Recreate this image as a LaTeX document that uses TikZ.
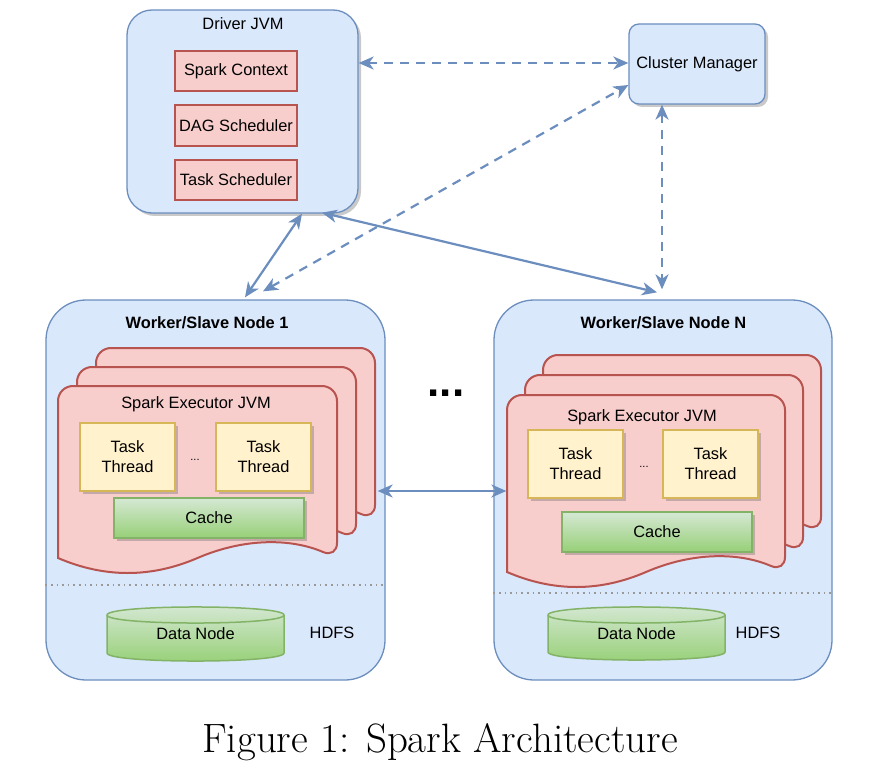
\documentclass[tikz,border=0pt]{standalone}
\usepackage{fontspec}
\newfontfamily\arialf{Liberation Sans}
\usetikzlibrary{arrows.meta,shadows,calc}
\definecolor{bfill}{HTML}{DAE8FC}
\definecolor{bdraw}{HTML}{6C8EBF}
\definecolor{rfill}{HTML}{F8CECC}
\definecolor{rdraw}{HTML}{B85450}
\definecolor{yfill}{HTML}{FFF2CC}
\definecolor{ydraw}{HTML}{D6B656}
\definecolor{gfill}{HTML}{D5E8D4}
\definecolor{gfilltwo}{HTML}{97D077}
\definecolor{gdraw}{HTML}{82B366}
\definecolor{sepgray}{HTML}{999999}
\tikzset{
  lbl/.style={font=\arialf\fontsize{16.4}{20}\selectfont, text=black, inner sep=0pt, align=center},
  ttl/.style={font=\arialf\bfseries\fontsize{16.4}{20}\selectfont, text=black, inner sep=0pt},
  bluebox/.style={draw=bdraw, fill=bfill, line width=1.3pt},
  shad/.style={drop shadow={shadow xshift=3pt, shadow yshift=-3pt, opacity=0.35, fill=black!60}},
  redbox/.style={draw=rdraw, fill=rfill, line width=1.3pt, minimum width=122pt, minimum height=40pt, lbl},
  yellowbox/.style={draw=ydraw, fill=yfill, line width=1.3pt, minimum width=95pt, minimum height=68pt, lbl, shad},
  cachebox/.style={draw=gdraw, top color=gfill, bottom color=gfilltwo, line width=1.3pt, minimum width=190pt, minimum height=40pt, lbl, shad},
  pagestyle/.style={draw=rdraw, fill=rfill, line width=2pt},
  cylstyle/.style={draw=gdraw, top color=gfill, bottom color=gfilltwo, line width=1.5pt},
  sepline/.style={draw=sepgray, line width=1.6pt, dash pattern=on 1.6pt off 4pt},
  conn/.style={draw=bdraw, line width=2.2pt, arrows={Stealth[length=15pt,width=13pt,inset=4.5pt]-Stealth[length=15pt,width=13pt,inset=4.5pt]}},
  dconn/.style={conn, dash pattern=on 9pt off 7pt},
}
\newcommand\drawexepage[4]{%
  \begin{scope}[shift={(#1,#2)}]
    \draw[pagestyle, rounded corners=15pt] (0,#4) -- (0,0) -- (#3,0) -- (#3,#4) [sharp corners]
      .. controls ({#3*5/6},#4-20) and ({#3*2/3},#4-20) .. ({#3/2},#4)
      .. controls ({#3/3},#4+20) and ({#3/6},#4+20) .. (0,#4) -- cycle;
  \end{scope}}
\newcommand\drawcylinder[4]{% x0, x1, ytopcenter, ybotcenter
  \draw[cylstyle] (#1,#3) -- (#1,#4) .. controls (#1,#4+10.7) and (#2,#4+10.7) .. (#2,#4)
     -- (#2,#3) .. controls (#2,#3-10.7) and (#1,#3-10.7) .. (#1,#3) -- cycle;
  \draw[draw=gdraw, line width=1.5pt] (#1,#3) .. controls (#1,#3+10.7) and (#2,#3+10.7) .. (#2,#3);}
\begin{document}
\begin{tikzpicture}[x=1pt,y=-1pt]
\fill[white] (0,0) rectangle (878,762);
\useasboundingbox (0,0) rectangle (878,762);

% Driver JVM
\node[bluebox, shad, rounded corners=25pt, minimum width=231pt, minimum height=203pt] (driver) at (242.5,111.5) {};
\node[lbl] (drvt) at (243,24) {Driver JVM};
\node[redbox] (sc) at (236,71) {Spark Context};
\node[redbox, minimum height=41pt] (dag) at (236,125.5) {DAG Scheduler};
\node[redbox] (ts) at (236,180) {Task Scheduler};

% Cluster manager
\node[bluebox, shad, rounded corners=10pt, minimum width=136pt, minimum height=80pt, lbl] (cm) at (697,64) {Cluster Manager};

% Workers
\node[bluebox, rounded corners=40pt, minimum width=339pt, minimum height=380pt] (w1) at (215.5,490) {};
\node[bluebox, rounded corners=40pt, minimum width=338pt, minimum height=380pt] (wN) at (663,490) {};
\node[ttl] (w1t) at (207,323) {Worker/Slave Node 1};
\node[ttl] (wNt) at (663.5,323) {Worker/Slave Node N};

% Executor pages, worker 1
\drawexepage{96}{348}{279}{172}
\drawexepage{77}{367}{279}{172}
\drawexepage{58}{386}{279}{172}
\node[lbl] (e1t) at (196,404) {Spark Executor JVM};
\node[yellowbox] (t11) at (127.5,457) {Task\\Thread};
\node[yellowbox] (t12) at (263.5,457) {Task\\Thread};
\node[lbl, font=\arialf\fontsize{11}{12}\selectfont] (d1) at (195,460) {...};
\node[cachebox] (c1) at (209,518) {Cache};

% Executor pages, worker N
\drawexepage{543}{355}{278}{177}
\drawexepage{525}{375}{278}{177}
\drawexepage{507}{395}{278}{177}
\node[lbl] (eNt) at (642,417) {Spark Executor JVM};
\node[yellowbox] (tN1) at (575.5,464) {Task\\Thread};
\node[yellowbox] (tN2) at (710.5,464) {Task\\Thread};
\node[lbl, font=\arialf\fontsize{11}{12}\selectfont] (dN) at (644,467) {...};
\node[cachebox] (cN) at (657,532) {Cache};

% separators
\draw[sepline] ([yshift=-95pt]w1.west) -- ([yshift=-95pt]w1.east);
\draw[sepline] ([yshift=-103pt]wN.west) -- ([yshift=-103pt]wN.east);

% data nodes
\drawcylinder{107}{284}{615}{653}
\node[lbl] (dn1) at (195.5,634) {Data Node};
\node[lbl] (h1) at (332,633) {HDFS};
\drawcylinder{548}{725}{615}{652}
\node[lbl] (dnN) at (636.5,634) {Data Node};
\node[lbl] (hN) at (758,633) {HDFS};

% big dots
\node[font=\arialf\bfseries\fontsize{44}{44}\selectfont, inner sep=0pt] (bigdots) at (446,393) {...};

% connectors
\draw[dconn] ([yshift=48.5pt]driver.east) -- ([yshift=1pt]cm.west);
\draw[dconn] ([xshift=47.5pt,yshift=8pt]w1.north) -- ([yshift=-21pt]cm.west);
\draw[dconn] ([xshift=-35pt]cm.south) -- ([xshift=-1pt,yshift=10pt]wN.north);
\draw[conn] ([xshift=59.5pt]driver.south) -- ([xshift=29.5pt,yshift=2pt]w1.north);
\draw[conn] ([xshift=79.5pt,yshift=1pt]driver.south) -- ([xshift=-6pt,yshift=7pt]wN.north);
\draw[conn] ([xshift=-8pt,yshift=-1pt]w1.east) -- ([xshift=13pt,yshift=-1pt]wN.west);

% caption
\node[font=\fontsize{41}{48}\selectfont, inner sep=0pt] (cap) at (440,742) {Figure 1: Spark Architecture};
\end{tikzpicture}
\end{document}
